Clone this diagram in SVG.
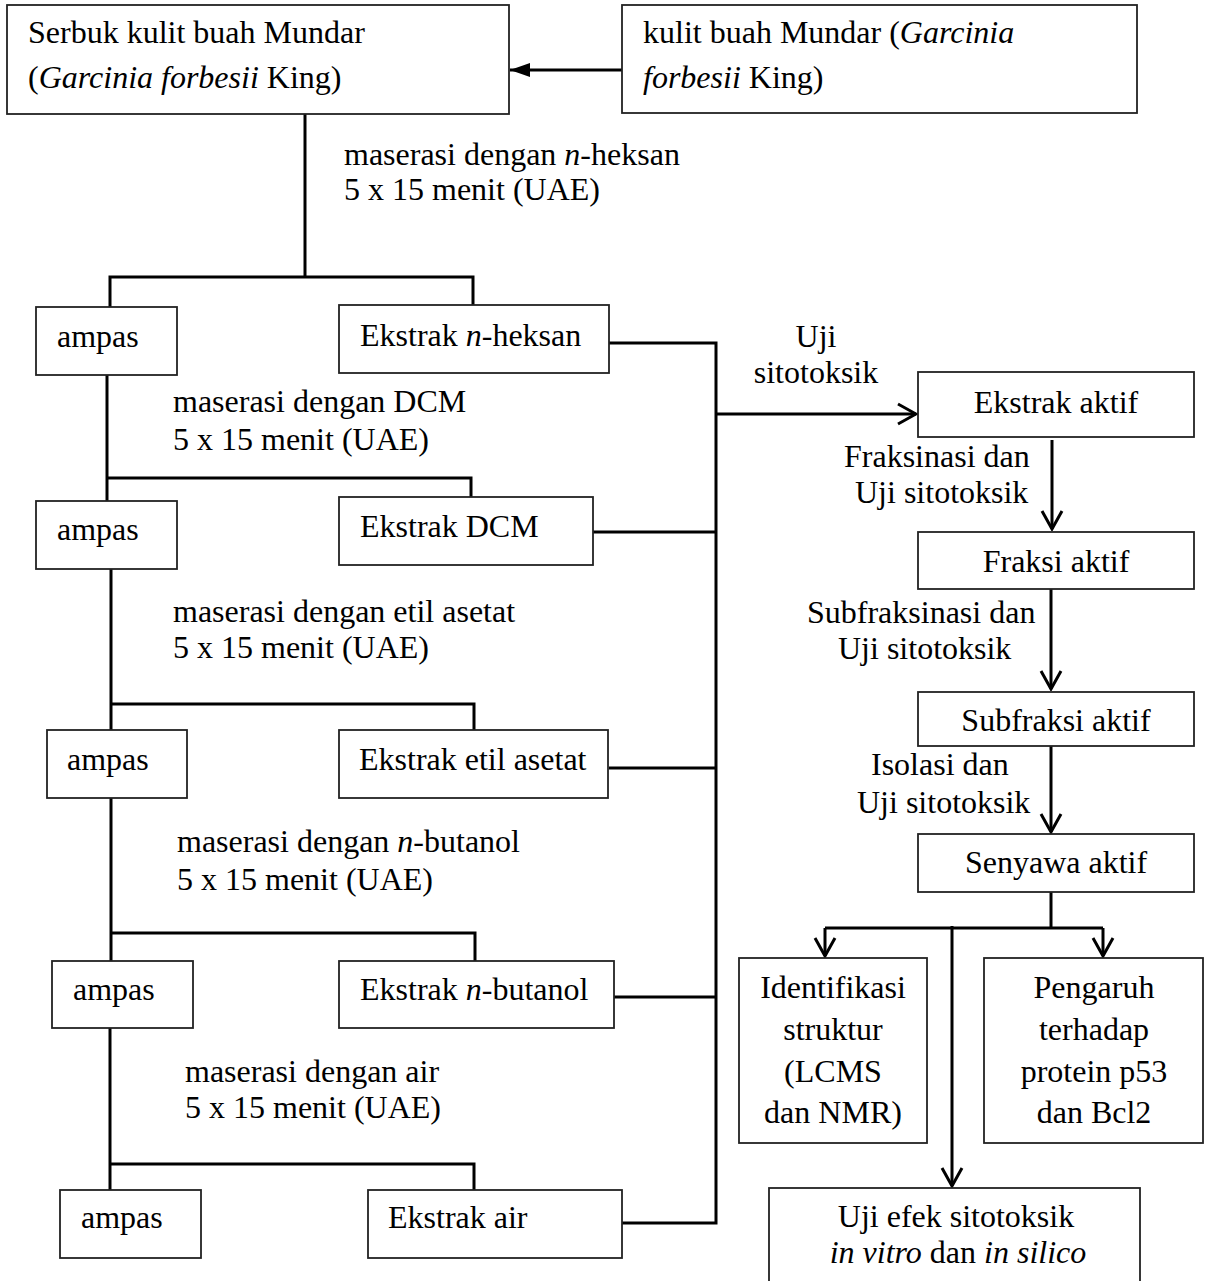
<svg xmlns="http://www.w3.org/2000/svg" width="1205" height="1281" viewBox="0 0 1205 1281">
<style>
.bg{fill:#fff}
.box{fill:#fff;stroke:#222;stroke-width:1.8}
.ln{fill:none;stroke:#000;stroke-width:3}
.t{font-family:"Liberation Serif","Times New Roman",serif;font-size:32px;fill:#000}
.m{text-anchor:middle}
.i{font-style:italic}
</style>
<defs>
<marker id="open" markerUnits="userSpaceOnUse" viewBox="0 0 22 24" refX="20" refY="12" markerWidth="22" markerHeight="24" orient="auto">
<path d="M2,2 L20,12 L2,22" fill="none" stroke="#000" stroke-width="3"/>
</marker>
<marker id="solid" markerUnits="userSpaceOnUse" viewBox="0 0 20 14" refX="20" refY="7" markerWidth="20" markerHeight="14" orient="auto">
<path d="M0,0 L20,7 L0,14 Z" fill="#000"/>
</marker>
</defs>
<rect class="bg" x="0" y="0" width="1205" height="1281"/>

<g id="connectors">
<path class="ln" d="M622,70 H510" marker-end="url(#solid)"/>
<path class="ln" d="M305,114 V277"/>
<path class="ln" d="M110,307 V277 H473 V305"/>
<path class="ln" d="M107,375 V501"/>
<path class="ln" d="M107,478 H471 V497"/>
<path class="ln" d="M111,569 V730"/>
<path class="ln" d="M111,704 H474 V730"/>
<path class="ln" d="M111,798 V961"/>
<path class="ln" d="M111,933 H475 V961"/>
<path class="ln" d="M110,1028 V1190"/>
<path class="ln" d="M110,1164 H474 V1190"/>
<path class="ln" d="M609,343 H716 V1223 H622"/>
<path class="ln" d="M593,532 H716"/>
<path class="ln" d="M609,768 H716"/>
<path class="ln" d="M614,997 H716"/>
<path class="ln" d="M716,414 H916" marker-end="url(#open)"/>
<path class="ln" d="M1052,440 V529" marker-end="url(#open)"/>
<path class="ln" d="M1051,589 V689" marker-end="url(#open)"/>
<path class="ln" d="M1051,746 V832" marker-end="url(#open)"/>
<path class="ln" d="M1051,892 V928"/>
<path class="ln" d="M825,928 H1103"/>
<path class="ln" d="M825,928 V956" marker-end="url(#open)"/>
<path class="ln" d="M1103,928 V956" marker-end="url(#open)"/>
<path class="ln" d="M952,926 V1186" marker-end="url(#open)"/>
</g>

<g id="labels">
<text class="t" x="344" y="165">maserasi dengan <tspan class="i">n</tspan>-heksan</text>
<text class="t" x="344" y="200">5 x 15 menit (UAE)</text>
<text class="t" x="173" y="412">maserasi dengan DCM</text>
<text class="t" x="173" y="450">5 x 15 menit (UAE)</text>
<text class="t" x="173" y="622">maserasi dengan etil asetat</text>
<text class="t" x="173" y="658">5 x 15 menit (UAE)</text>
<text class="t" x="177" y="852">maserasi dengan <tspan class="i">n</tspan>-butanol</text>
<text class="t" x="177" y="890">5 x 15 menit (UAE)</text>
<text class="t" x="185" y="1082">maserasi dengan air</text>
<text class="t" x="185" y="1118">5 x 15 menit (UAE)</text>
<text class="t m" x="816" y="347">Uji</text>
<text class="t m" x="816" y="383">sitotoksik</text>
<text class="t" x="844" y="467">Fraksinasi dan</text>
<text class="t" x="855" y="503">Uji sitotoksik</text>
<text class="t" x="807" y="623">Subfraksinasi dan</text>
<text class="t" x="838" y="659">Uji sitotoksik</text>
<text class="t" x="871" y="775">Isolasi dan</text>
<text class="t" x="857" y="813">Uji sitotoksik</text>
</g>

<g id="serbuk">
<rect class="box" x="7" y="5" width="502" height="109"/>
<text class="t" x="28" y="43">Serbuk kulit buah Mundar</text>
<text class="t" x="28" y="88">(<tspan class="i">Garcinia forbesii</tspan> King)</text>
</g>
<g id="kulit">
<rect class="box" x="622" y="5" width="515" height="108"/>
<text class="t" x="643" y="43">kulit buah Mundar (<tspan class="i">Garcinia</tspan></text>
<text class="t" x="643" y="88"><tspan class="i">forbesii</tspan> King)</text>
</g>

<g id="ampas1"><rect class="box" x="36" y="307" width="141" height="68"/><text class="t" x="57" y="347">ampas</text></g>
<g id="ekstrak-heksan"><rect class="box" x="339" y="305" width="270" height="68"/><text class="t" x="360" y="346">Ekstrak <tspan class="i">n</tspan>-heksan</text></g>
<g id="ampas2"><rect class="box" x="36" y="501" width="141" height="68"/><text class="t" x="57" y="540">ampas</text></g>
<g id="ekstrak-dcm"><rect class="box" x="339" y="497" width="254" height="68"/><text class="t" x="360" y="537">Ekstrak DCM</text></g>
<g id="ampas3"><rect class="box" x="47" y="730" width="140" height="68"/><text class="t" x="67" y="770">ampas</text></g>
<g id="ekstrak-etil"><rect class="box" x="339" y="730" width="269" height="68"/><text class="t" x="359" y="770">Ekstrak etil asetat</text></g>
<g id="ampas4"><rect class="box" x="52" y="961" width="141" height="67"/><text class="t" x="73" y="1000">ampas</text></g>
<g id="ekstrak-butanol"><rect class="box" x="339" y="961" width="275" height="67"/><text class="t" x="360" y="1000">Ekstrak <tspan class="i">n</tspan>-butanol</text></g>
<g id="ampas5"><rect class="box" x="60" y="1190" width="141" height="68"/><text class="t" x="81" y="1228">ampas</text></g>
<g id="ekstrak-air"><rect class="box" x="368" y="1190" width="254" height="68"/><text class="t" x="388" y="1228">Ekstrak air</text></g>

<g id="ekstrak-aktif"><rect class="box" x="918" y="372" width="276" height="65"/><text class="t m" x="1056" y="413">Ekstrak aktif</text></g>
<g id="fraksi-aktif"><rect class="box" x="918" y="532" width="276" height="57"/><text class="t m" x="1056" y="572">Fraksi aktif</text></g>
<g id="subfraksi-aktif"><rect class="box" x="918" y="692" width="276" height="54"/><text class="t m" x="1056" y="731">Subfraksi aktif</text></g>
<g id="senyawa-aktif"><rect class="box" x="918" y="834" width="276" height="58"/><text class="t m" x="1056" y="873">Senyawa aktif</text></g>
<g id="identifikasi"><rect class="box" x="739" y="958" width="188" height="185"/>
<text class="t m" x="833" y="998">Identifikasi</text>
<text class="t m" x="833" y="1040">struktur</text>
<text class="t m" x="833" y="1082">(LCMS</text>
<text class="t m" x="833" y="1123">dan NMR)</text></g>
<g id="pengaruh"><rect class="box" x="984" y="958" width="219" height="185"/>
<text class="t m" x="1094" y="998">Pengaruh</text>
<text class="t m" x="1094" y="1040">terhadap</text>
<text class="t m" x="1094" y="1082">protein p53</text>
<text class="t m" x="1094" y="1123">dan Bcl2</text></g>
<g id="uji-efek"><rect class="box" x="769" y="1188" width="371" height="110"/>
<text class="t m" x="956" y="1227">Uji efek sitotoksik</text>
<text class="t m" x="958" y="1263"><tspan class="i">in vitro</tspan> dan <tspan class="i">in silico</tspan></text></g>
</svg>
